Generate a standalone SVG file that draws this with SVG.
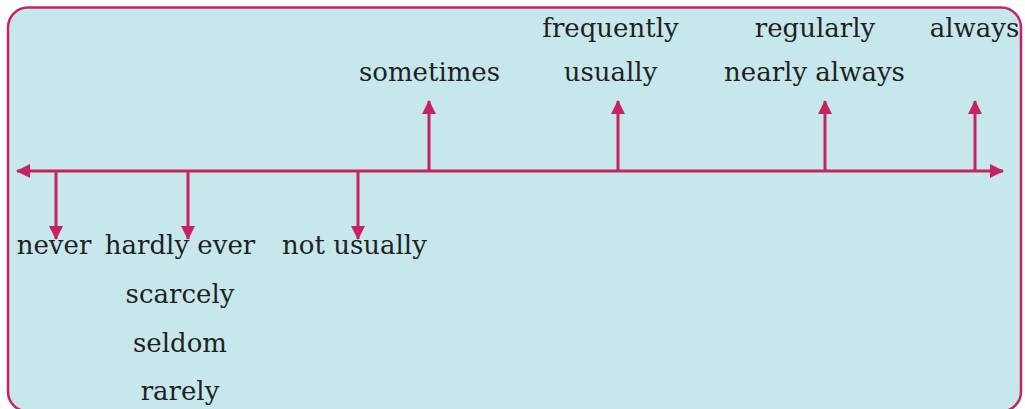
<svg xmlns="http://www.w3.org/2000/svg" width="1025" height="409" viewBox="0 0 1025 409">
<defs>
<style>
.lbl{font-family:"DejaVu Serif","Liberation Serif",serif;font-size:26px;fill:#231f20;text-anchor:middle}
.ln{stroke:#c8235f;stroke-width:3;fill:none}
.hd{fill:#c8235f}
</style>
<marker id="ah" viewBox="0 0 14 14" refX="13" refY="7" markerWidth="14" markerHeight="14" markerUnits="userSpaceOnUse" orient="auto-start-reverse">
<path class="hd" d="M0,0 L14,7 L0,14 Z"/>
</marker>
</defs>
<rect x="8" y="7.5" width="1013" height="404" rx="20" ry="20" fill="#c6e8ed" stroke="#c8235f" stroke-width="2.5"/>
<g id="connectors">
<line class="ln" x1="17" y1="171" x2="1003" y2="171" marker-start="url(#ah)" marker-end="url(#ah)"/>
<line class="ln" x1="56" y1="171" x2="56" y2="239" marker-end="url(#ah)"/>
<line class="ln" x1="188" y1="171" x2="188" y2="239" marker-end="url(#ah)"/>
<line class="ln" x1="358" y1="171" x2="358" y2="239" marker-end="url(#ah)"/>
<line class="ln" x1="429" y1="171" x2="429" y2="101" marker-end="url(#ah)"/>
<line class="ln" x1="618" y1="171" x2="618" y2="101" marker-end="url(#ah)"/>
<line class="ln" x1="825" y1="171" x2="825" y2="101" marker-end="url(#ah)"/>
<line class="ln" x1="975" y1="171" x2="975" y2="101" marker-end="url(#ah)"/>
</g>
<g id="sometimes"><text class="lbl" x="429.5" y="81">sometimes</text></g>
<g id="usually"><text class="lbl" x="610.5" y="37">frequently</text><text class="lbl" x="610.5" y="81">usually</text></g>
<g id="nearly-always"><text class="lbl" x="815" y="37">regularly</text><text class="lbl" x="814.5" y="81">nearly always</text></g>
<g id="always"><text class="lbl" x="974.5" y="37">always</text></g>
<g id="never"><text class="lbl" x="54" y="254">never</text></g>
<g id="hardly-ever"><text class="lbl" x="180" y="254">hardly ever</text><text class="lbl" x="180" y="303">scarcely</text><text class="lbl" x="180" y="352">seldom</text><text class="lbl" x="180" y="400">rarely</text></g>
<g id="not-usually"><text class="lbl" x="354.5" y="254">not usually</text></g>
</svg>
